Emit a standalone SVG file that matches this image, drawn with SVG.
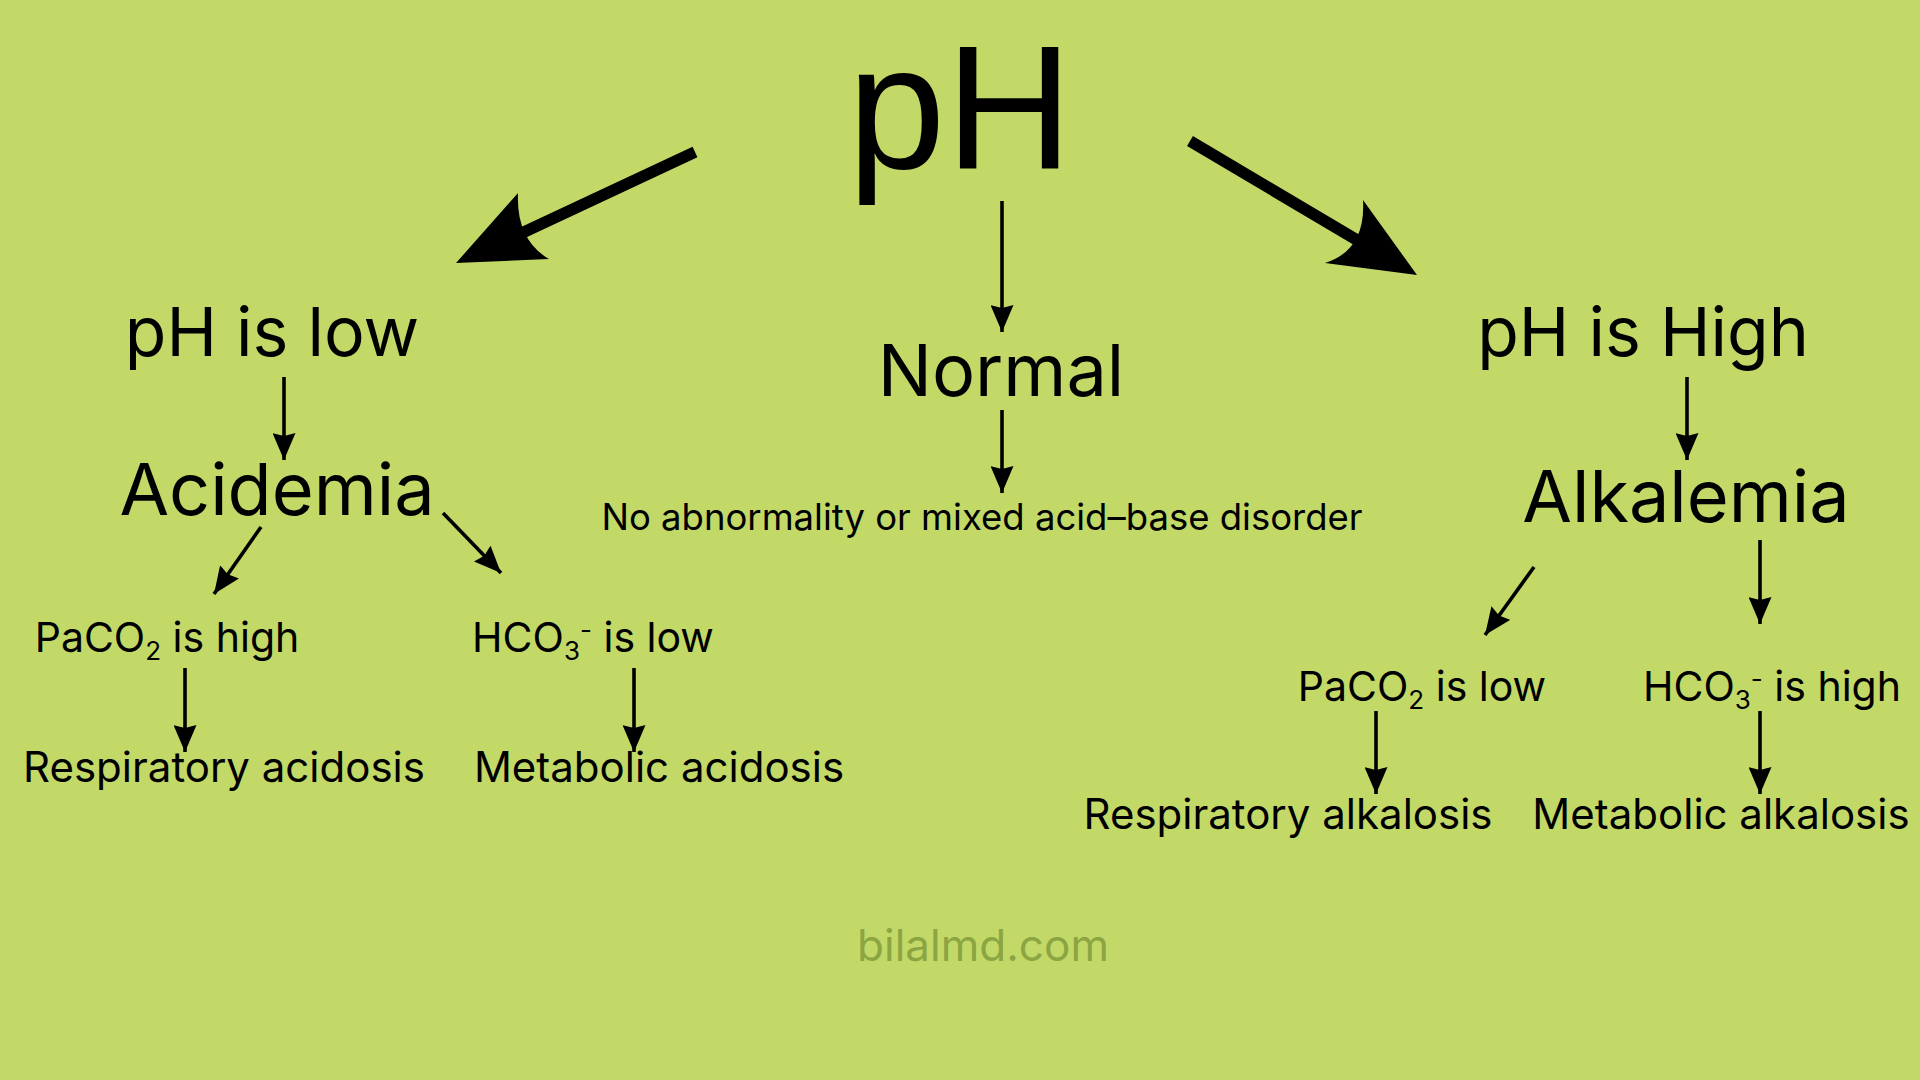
<svg xmlns="http://www.w3.org/2000/svg" width="1920" height="1080" viewBox="0 0 1920 1080">
<defs>
<style>
.t{font-family:Inter,"Noto Sans","Liberation Sans",sans-serif;fill:#000;text-anchor:middle}
.h{font-size:68px}
.m{font-size:72px}
.s{font-size:41px}
.b{font-size:42px}
.n{font-size:36.5px}
.sub{font-size:26px}
.c{stroke:#000;stroke-width:3.6;fill:none;marker-end:url(#ah)}
.big{stroke:#000;stroke-width:11.5;fill:none}
</style>
<marker id="ah" viewBox="0 0 27 23" refX="27" refY="11.5" markerWidth="27" markerHeight="23" markerUnits="userSpaceOnUse" orient="auto">
<path d="M0,0 L27,11.5 L0,23 L3,11.5 z" fill="#000"/>
</marker>
</defs>
<rect width="1920" height="1080" fill="#c2d968"/>
<g id="connectors">
<line class="big" x1="695" y1="152" x2="522" y2="233"/>
<path d="M456,263 L518,193 Q516,240 549,259 Z" fill="#000"/>
<line class="big" x1="1190" y1="141" x2="1362" y2="243"/>
<path d="M1417,275 L1363,200 Q1366,250 1325,263 Z" fill="#000"/>
<line class="c" x1="1002" y1="201" x2="1002" y2="332"/>
<line class="c" x1="1002" y1="410" x2="1002" y2="493"/>
<line class="c" x1="284" y1="377" x2="284" y2="460"/>
<line class="c" x1="261" y1="527" x2="214" y2="594"/>
<line class="c" x1="443" y1="513" x2="501" y2="573"/>
<line class="c" x1="185" y1="668" x2="185" y2="752"/>
<line class="c" x1="634" y1="668" x2="634" y2="752"/>
<line class="c" x1="1687" y1="377" x2="1687" y2="460"/>
<line class="c" x1="1534" y1="567" x2="1485" y2="635"/>
<line class="c" x1="1760" y1="540" x2="1760" y2="624"/>
<line class="c" x1="1376" y1="711" x2="1376" y2="794"/>
<line class="c" x1="1760" y1="711" x2="1760" y2="794"/>
</g>
<g id="ph"><text x="960" y="168" font-family="'Liberation Sans',Arial,sans-serif" font-size="176" text-anchor="middle">pH</text></g>
<g id="ph-low"><text class="t h" x="272" y="356">pH is low</text></g>
<g id="acidemia"><text class="t m" x="277" y="515">Acidemia</text></g>
<g id="paco2-high"><text class="t s" x="167" y="652">PaCO<tspan class="sub" dy="8">2</tspan><tspan dy="-8"> is high</tspan></text></g>
<g id="hco3-low"><text class="t s" x="593" y="652">HCO<tspan class="sub" dy="8">3</tspan><tspan class="sub" dy="-20">-</tspan><tspan dy="12"> is low</tspan></text></g>
<g id="resp-acidosis"><text class="t b" x="224" y="782">Respiratory acidosis</text></g>
<g id="met-acidosis"><text class="t b" x="659" y="782">Metabolic acidosis</text></g>
<g id="normal"><text class="t m" x="1001" y="396">Normal</text></g>
<g id="no-abn"><text class="t n" x="982" y="530">No abnormality or mixed acid–base disorder</text></g>
<g id="ph-high"><text class="t h" x="1643" y="356">pH is High</text></g>
<g id="alkalemia"><text class="t m" x="1686" y="522">Alkalemia</text></g>
<g id="paco2-low"><text class="t s" x="1422" y="701">PaCO<tspan class="sub" dy="8">2</tspan><tspan dy="-8"> is low</tspan></text></g>
<g id="hco3-high"><text class="t s" x="1772" y="701">HCO<tspan class="sub" dy="8">3</tspan><tspan class="sub" dy="-20">-</tspan><tspan dy="12"> is high</tspan></text></g>
<g id="resp-alkalosis"><text class="t b" x="1288" y="829">Respiratory alkalosis</text></g>
<g id="met-alkalosis"><text class="t b" x="1721" y="829">Metabolic alkalosis</text></g>
<g id="watermark"><text x="983" y="961" font-family="Inter,'Noto Sans',sans-serif" font-size="44" text-anchor="middle" fill="#8ba542">bilalmd.com</text></g>
</svg>
